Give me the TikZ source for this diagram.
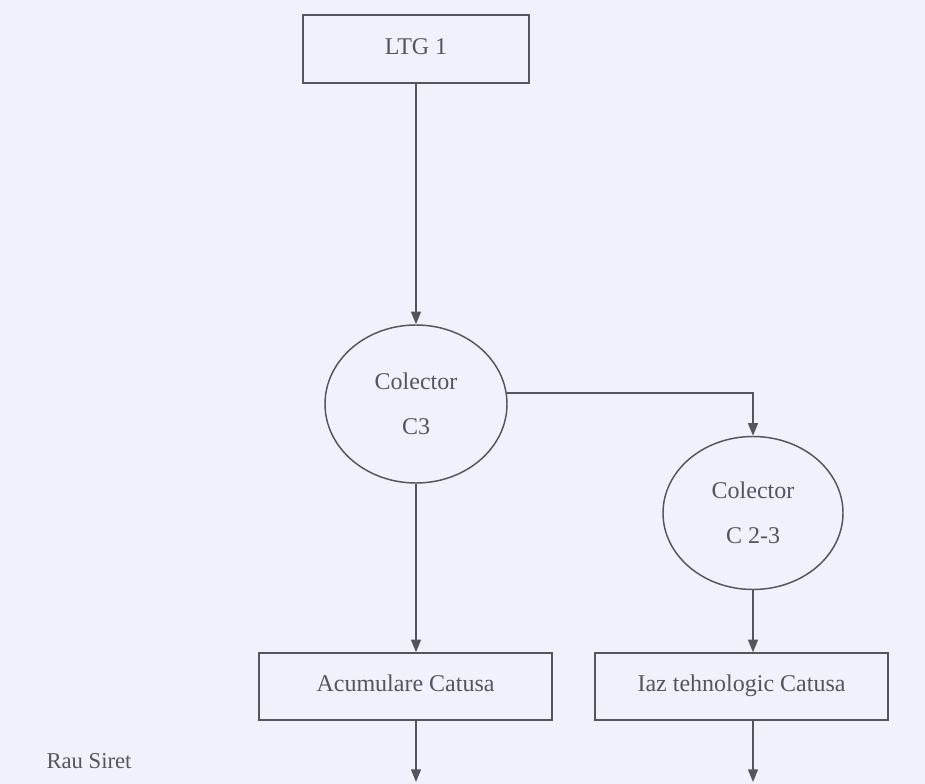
\documentclass[tikz,border=0pt]{standalone}
\usepackage{fontspec}
\setmainfont{Liberation Serif}
\usetikzlibrary{shapes.geometric,arrows.meta}
\definecolor{paper}{RGB}{239,242,250}
\definecolor{ink}{RGB}{85,85,90}
\tikzset{every picture/.style={line width=0.75pt}}
\tikzset{
  flow/.style={draw=ink, line width=1.1pt, -{Triangle[length=9.5pt,width=7.5pt]}},
  boxnode/.style={draw=ink, line width=1.1pt, rectangle, inner sep=0pt, text=ink,
    text height=12pt, text depth=4pt, font=\fontsize{18}{34}\selectfont},
  poolnode/.style={draw=ink, line width=1.1pt, ellipse, inner sep=0pt, text=ink, align=center,
    font=\fontsize{18}{34}\selectfont}
}

\begin{document}
\begin{tikzpicture}[x=0.75pt,y=0.75pt,yscale=-1]
	%set diagram frame: 925 x 784
	\fill[paper] (0,0) rectangle (925,784);
	\useasboundingbox (0,0) rectangle (925,784);
	
	%Shape: Rectangle [id:ltg]
	\node[boxnode, minimum width=169.5pt, minimum height=51pt] (ltg) at (416,49) {LTG 1};
	%Shape: Ellipse [id:c3]
	\node[poolnode, minimum width=136.5pt, minimum height=118.5pt] (c3) at (416,404) {Colector\\C3};
	%Shape: Ellipse [id:c23]
	\node[poolnode, minimum width=135pt, minimum height=114.75pt] (c23) at (753,513) {Colector\\C 2-3};
	%Shape: Rectangle [id:acc]
	\node[boxnode, minimum width=219.75pt, minimum height=50.25pt] (acc) at (405.5,686.5) {Acumulare Catusa};
	%Shape: Rectangle [id:laz]
	\node[boxnode, minimum width=219.75pt, minimum height=50.25pt] (laz) at (741.5,686.5) {Iaz tehnologic Catusa};
	
	%Bottom ends
	\coordinate (out1) at (416,782);
	\coordinate (out2) at (753,782);
	
	%Straight Lines
	\draw[flow] (ltg.south) -- (c3.north);
	%Straight Lines
	\draw[flow] (c3.7) -- (c3.7 -| c23.north) -- (c23.north);
	%Straight Lines
	\draw[flow] (c3.south) -- (c3.south |- acc.north);
	%Straight Lines
	\draw[flow] (c23.south) -- (c23.south |- laz.north);
	%Straight Lines
	\draw[flow] (out1 |- acc.south) -- (out1);
	%Straight Lines
	\draw[flow] (out2 |- laz.south) -- (out2);
	
	% Text Node
	\node[text=ink, font=\fontsize{17}{20}\selectfont] (siret) at (89,761) {Rau Siret};
\end{tikzpicture}
\end{document}
